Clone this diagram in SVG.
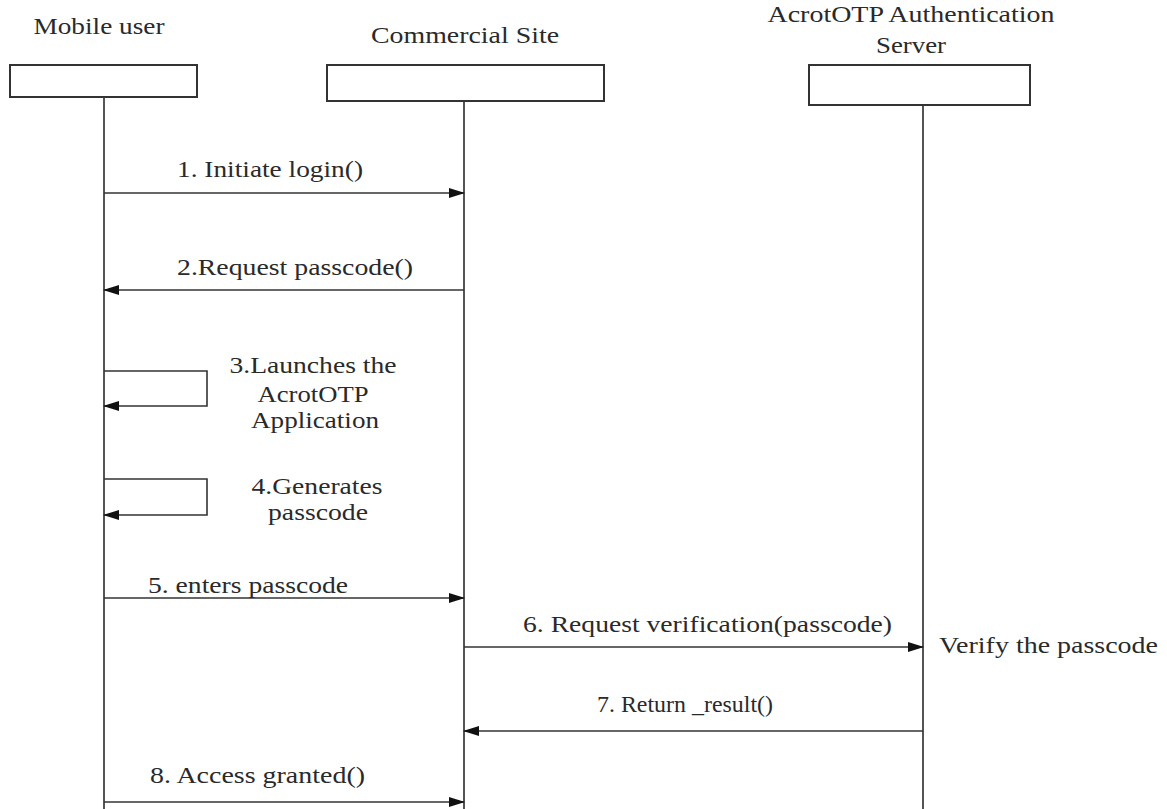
<svg xmlns="http://www.w3.org/2000/svg" width="1167" height="809" viewBox="0 0 1167 809">
<style>
  .lbl { font-family: "Liberation Serif", "Times New Roman", serif; font-size: 22.5px; fill: #2a2a2a; }
  .box { fill: #fff; stroke: #333; stroke-width: 2; }
  .life { stroke: #555; stroke-width: 2; fill: none; }
  .msg { stroke: #333; stroke-width: 1.6; fill: none; marker-end: url(#ah); }
</style>
<defs>
  <marker id="ah" markerUnits="userSpaceOnUse" markerWidth="16" markerHeight="10" refX="15" refY="5" orient="auto">
    <path d="M0,0 L16,5 L0,10 Z" fill="#111"/>
  </marker>
</defs>
<rect width="1167" height="809" fill="#fff"/>
<g id="mobile">
  <text class="lbl" x="99" y="34" text-anchor="middle" textLength="131" lengthAdjust="spacingAndGlyphs">Mobile user</text>
  <line class="life" x1="104" y1="97" x2="104" y2="809"/>
  <rect class="box" x="10" y="65" width="187" height="32"/>
</g>
<g id="commercial">
  <text class="lbl" x="465" y="43" text-anchor="middle" textLength="188" lengthAdjust="spacingAndGlyphs">Commercial Site</text>
  <line class="life" x1="464" y1="101" x2="464" y2="809"/>
  <rect class="box" x="327" y="65" width="277" height="36"/>
</g>
<g id="server">
  <text class="lbl" x="911" y="22" text-anchor="middle" textLength="287" lengthAdjust="spacingAndGlyphs">AcrotOTP Authentication</text>
  <text class="lbl" x="911" y="53" text-anchor="middle" textLength="70" lengthAdjust="spacingAndGlyphs">Server</text>
  <line class="life" x1="923" y1="105" x2="923" y2="809"/>
  <rect class="box" x="809" y="65" width="221" height="40"/>
</g>
<g id="connectors">
  <line class="msg" x1="104" y1="193" x2="464" y2="193"/>
  <text class="lbl" x="177" y="177" textLength="186" lengthAdjust="spacingAndGlyphs">1. Initiate login()</text>
  <line class="msg" x1="464" y1="290" x2="104" y2="290"/>
  <text class="lbl" x="177" y="275" textLength="236" lengthAdjust="spacingAndGlyphs">2.Request passcode()</text>
  <path class="msg" d="M104,371 H207 V406 H104"/>
  <text class="lbl" x="313" y="373" text-anchor="middle" textLength="167" lengthAdjust="spacingAndGlyphs">3.Launches the</text>
  <text class="lbl" x="313" y="402" text-anchor="middle" textLength="111" lengthAdjust="spacingAndGlyphs">AcrotOTP</text>
  <text class="lbl" x="315" y="428" text-anchor="middle" textLength="128" lengthAdjust="spacingAndGlyphs">Application</text>
  <path class="msg" d="M104,479 H207 V515 H104"/>
  <text class="lbl" x="317" y="494" text-anchor="middle" textLength="131" lengthAdjust="spacingAndGlyphs">4.Generates</text>
  <text class="lbl" x="318" y="520" text-anchor="middle" textLength="100" lengthAdjust="spacingAndGlyphs">passcode</text>
  <line class="msg" x1="104" y1="598" x2="464" y2="598"/>
  <text class="lbl" x="148" y="593" textLength="200" lengthAdjust="spacingAndGlyphs">5. enters passcode</text>
  <line class="msg" x1="464" y1="647" x2="923" y2="647"/>
  <text class="lbl" x="523" y="632" textLength="369" lengthAdjust="spacingAndGlyphs">6. Request verification(passcode)</text>
  <text class="lbl" x="939" y="653" textLength="219" lengthAdjust="spacingAndGlyphs">Verify the passcode</text>
  <line class="msg" x1="923" y1="731" x2="464" y2="731"/>
  <text class="lbl" x="597" y="712" textLength="176" lengthAdjust="spacingAndGlyphs">7. Return _result()</text>
  <line class="msg" x1="104" y1="802" x2="464" y2="802"/>
  <text class="lbl" x="150" y="783" textLength="215" lengthAdjust="spacingAndGlyphs">8. Access granted()</text>
</g>
</svg>
